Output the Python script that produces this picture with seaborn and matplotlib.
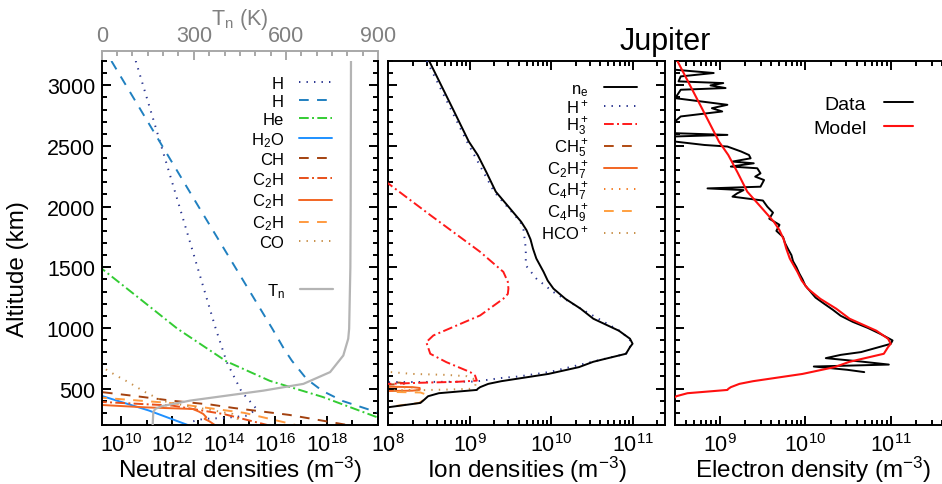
import matplotlib
matplotlib.use("Agg")
import matplotlib.pyplot as plt
import seaborn as sns
import pandas as pd
from matplotlib.ticker import (FixedLocator, FixedFormatter, NullFormatter,
                               MultipleLocator, LogLocator)

# ---------------- neutral atmosphere ----------------
alt_h = [3200, 2000, 1000, 720, 473, 332, 305, 275, 258, 250, 230]
n_h = [3.8e10, 1.9e12, 4.8e13, 1.3e14, 5.0e14, 1.9e15, 1.26e15, 7.1e14, 1.0e14, 1.6e13, 6.3e12]

alt_h2 = [3200, 2000, 1500, 993, 828, 729, 580, 481, 398, 307, 250]
n_h2 = [4.3e9, 1.05e13, 2.8e14, 7.8e15, 2.2e16, 4.5e16, 1.66e17, 6.9e17, 4.2e18, 8.7e19, 4.0e20]

alt_he = [1520, 1489, 1250, 993, 725, 564, 431, 266, 200]
n_he = [1.26e9, 1.8e9, 4.8e10, 1.6e12, 1.26e14, 6.2e15, 7.1e17, 8.7e19, 5.0e20]

alt_h2o = [450, 320, 200]
n_h2o = [1.26e9, 1.2e11, 4.0e12]

alt_ch4 = [470, 440, 400, 368, 340, 283, 200]
n_ch4 = [2.0e9, 3.2e10, 1.0e12, 3.2e13, 2.5e14, 3.6e16, 6.5e18]

alt_c2h2 = [400, 390, 360, 290, 200]
n_c2h2 = [1.2e9, 1.8e9, 1.0e12, 1.0e14, 5.0e15]

alt_c2h4 = [372, 365, 345, 332, 310, 291, 264, 250, 230, 200]
n_c2h4 = [1.2e9, 1.8e9, 1.0e11, 6.3e12, 1.1e13, 1.6e13, 2.1e13, 1.8e13, 2.8e13, 4.5e13]

alt_c2h6 = [430, 425, 380, 300, 200]
n_c2h6 = [1.2e9, 1.8e9, 1.0e12, 6.3e14, 6.3e16]

alt_co = [700, 663, 605, 555, 473, 398, 360, 320, 291, 250, 200]
n_co = [1.6e9, 2.4e9, 6.9e9, 1.9e10, 8.5e10, 4.3e11, 3.2e12, 4.0e13, 2.2e14, 3.5e14, 4.2e14]

alt_tn = [200, 305, 332, 355, 401, 483, 539, 636, 773, 911, 993, 1500, 2000, 3200]
tn = [166, 168, 174, 195, 288, 526, 657, 744, 787, 803, 806, 810, 811, 812]

neutral_labels = ["H", "H", "He", r"H$\mathregular{_2}$O", "CH",
                  r"C$\mathregular{_2}$H", r"C$\mathregular{_2}$H",
                  r"C$\mathregular{_2}$H", "CO"]

# ---------------- ionosphere ----------------
alt_ne = [3200, 2800, 2536, 2425, 2280, 2123, 2000, 1875, 1806, 1730, 1654, 1572,
          1462, 1390, 1324, 1240, 1159, 1076, 977, 911, 870, 842, 787, 745, 721,
          677, 621, 561, 539, 512, 498, 489, 462, 437, 410, 382, 346, 320]
n_ne = [3.2e8, 6.3e8, 9.8e8, 1.26e9, 1.62e9, 2.1e9, 3.0e9, 4.3e9, 5.0e9, 5.6e9,
        6.0e9, 6.6e9, 8.1e9, 9.1e9, 1.07e10, 1.5e10, 2.3e10, 3.3e10, 6.8e10,
        9.3e10, 1.0e11, 9.3e10, 8.3e10, 4.6e10, 3.3e10, 2.2e10, 9.3e9, 2.45e9,
        1.7e9, 1.35e9, 1.26e9, 1.23e9, 4.2e8, 3.1e8, 2.8e8, 2.5e8, 1.0e8, 6.3e7]

alt_hp = [3200, 2536, 2123, 1875, 1806, 1654, 1516, 1407, 1299, 1175, 977, 911,
          870, 787, 721, 638, 600, 588, 558, 555, 553, 548]
n_hp = [3.0e8, 9.3e8, 2.0e9, 4.2e9, 4.6e9, 4.9e9, 4.9e9, 6.6e9, 1.05e10, 2.1e10,
        6.9e10, 9.1e10, 9.8e10, 8.3e10, 3.2e10, 9.8e9, 4.0e9, 2.5e9, 1.17e9,
        3.2e8, 1.0e8, 1.0e7]

alt_h3p = [2200, 2192, 1930, 1627, 1462, 1380, 1324, 1280, 1241, 1103, 938, 883,
           787, 718, 636, 607, 566, 556, 548, 539, 530]
n_h3p = [8.9e7, 1.0e8, 3.3e8, 1.35e9, 2.6e9, 2.95e9, 3.0e9, 2.95e9, 2.6e9,
         1.35e9, 3.6e8, 2.95e8, 3.3e8, 5.2e8, 1.02e9, 1.17e9, 1.23e9, 7.1e8,
         2.5e8, 1.0e8, 3.2e7]

alt_ch5p = [565, 553, 549, 543, 537, 533, 520]
n_ch5p = [1e7, 1e8, 1.4e8, 1.6e8, 1.4e8, 1e8, 1e7]

alt_c2h7p = [530, 516, 512, 505, 490, 483, 480, 470]
n_c2h7p = [1e7, 1e8, 2.0e8, 2.45e8, 2.45e8, 2.0e8, 1e8, 1e7]

alt_c4h7p = [528, 514, 508, 494, 484, 482, 472]
n_c4h7p = [1e7, 1e8, 2.0e8, 2.1e8, 1.6e8, 1e8, 1e7]

alt_c4h9p = [485, 473, 468, 456, 440, 425, 415, 382, 346]
n_c4h9p = [1e7, 1e8, 2.5e8, 2.8e8, 2.9e8, 2.9e8, 2.9e8, 2.4e8, 9.5e7]

alt_hcop = [680, 638, 621, 613, 602, 575, 550, 520, 498, 492, 487, 483, 475]
n_hcop = [2e7, 1e8, 2e8, 5.2e8, 9.3e8, 1.17e9, 1.2e9, 1.17e9, 1.0e9, 5.2e8,
          2.5e8, 1e8, 2e7]

ion_labels = [r"n$\mathregular{_e}$", r"H$\mathregular{^+}$",
              r"H$\mathregular{_3^+}$", r"CH$\mathregular{_5^+}$",
              r"C$\mathregular{_2}$H$\mathregular{_7^+}$",
              r"C$\mathregular{_4}$H$\mathregular{_7^+}$",
              r"C$\mathregular{_4}$H$\mathregular{_9^+}$",
              r"HCO$\mathregular{^+}$"]

# ---------------- measured electron density ----------------
alt_data = [3200, 3128, 3101, 3073, 3032, 3018, 2999, 2977, 2963, 2921, 2894,
            2839, 2811, 2784, 2743, 2702, 2605, 2591, 2578, 2536, 2508, 2495,
            2454, 2425, 2398, 2371, 2357, 2330, 2316, 2274, 2247, 2219, 2164,
            2150, 2136, 2109, 2082, 2050, 2000, 1950, 1900, 1850, 1800, 1750,
            1700, 1650, 1600, 1550, 1500, 1450, 1400, 1350, 1300, 1250, 1200,
            1150, 1100, 1050, 1000, 950, 897, 869, 801, 778, 751, 723, 698,
            682, 655, 636]
n_data = [3.0e8, 3.0e8, 8.5e8, 3.5e8, 3.3e8, 1.1e9, 7.8e8, 1.17e9, 3.5e8,
          3.2e8, 3.0e8, 1.23e9, 8.1e8, 1.07e9, 3.5e8, 3.0e8, 3.0e8, 1.23e9,
          3.0e8, 3.0e8, 6.6e8, 1.23e9, 1.78e9, 2.2e9, 2.3e9, 1.41e9, 2.5e9,
          1.35e9, 2.75e9, 3.0e9, 2.6e9, 3.3e9, 3.0e9, 7.2e8, 1.9e9, 1.6e9,
          1.41e9, 3.2e9, 3.6e9, 4.2e9, 3.8e9, 5.0e9, 4.6e9, 5.5e9, 5.8e9,
          6.3e9, 6.9e9, 7.2e9, 7.9e9, 8.5e9, 9.3e9, 1.0e10, 1.15e10, 1.32e10,
          1.66e10, 2.1e10, 2.6e10, 3.6e10, 5.4e10, 7.6e10, 1.05e11, 1.0e11,
          4.5e10, 2.6e10, 1.74e10, 4.5e10, 9.5e10, 1.26e10, 3.1e10, 4.9e10]

alt_ticks = [500, 1000, 1500, 2000, 2500, 3000]

# ---------------- style ----------------
sns.set_theme(style="ticks")
plt.rcParams.update({
    "font.family": ["Liberation Sans", "DejaVu Sans"],
    "mathtext.fontset": "custom",
    "mathtext.rm": "Liberation Sans",
    "mathtext.it": "Liberation Sans:italic",
    "mathtext.bf": "Liberation Sans:bold",
    "lines.scale_dashes": False,
    "axes.edgecolor": "black",
    "axes.linewidth": 1.4,
    "xtick.color": "black",
    "ytick.color": "black",
    "text.color": "black",
    "axes.labelcolor": "black",
})

DOT = (0, (1.0, 4.4))
DASH = (0, (7.0, 6.0))
DASHDOT = (0, (7.0, 2.4, 1.4, 2.4))
LW = 1.4
TICK_FS = 15.5
LABEL_FS = 17.5

W, H = 942, 485
fig = plt.figure(figsize=(W / 100, H / 100), dpi=100)
bot, hgt = 59 / H, 364 / H
ax1 = fig.add_axes([101.7 / W, bot, 276.3 / W, hgt])
ax2 = fig.add_axes([388 / W, bot, 277 / W, hgt])
ax3 = fig.add_axes([675 / W, bot, 275.5 / W, hgt])

for ax in (ax1, ax2, ax3):
    ax.set_xscale("log")
    ax.set_ylim(200, 3200)


def profile(ax, alt, dens, color, ls, label=None, z=2, lw=LW):
    df = pd.DataFrame({"n": dens, "alt": alt})
    sns.lineplot(data=df, x="n", y="alt", ax=ax, sort=False, estimator=None,
                 color=color, linestyle=ls, linewidth=lw, label=label,
                 legend=False, zorder=z)


# ---- left panel: neutrals ----
neutral_series = [
    (alt_h, n_h, "#2a3590", DOT),
    (alt_h2, n_h2, "#2080c0", DASH),
    (alt_he, n_he, "#33cc33", DASHDOT),
    (alt_h2o, n_h2o, "#1e90ff", "-"),
    (alt_ch4, n_ch4, "#a3410f", DASH),
    (alt_c2h2, n_c2h2, "#e8501a", DASHDOT),
    (alt_c2h4, n_c2h4, "#f26522", "-"),
    (alt_c2h6, n_c2h6, "#ff9a40", DASH),
    (alt_co, n_co, "#c8904a", DOT),
]
for (a, d, c, ls), lab in zip(neutral_series, neutral_labels):
    profile(ax1, a, d, c, ls, lab)

ax_t = ax1.twiny()
df_t = pd.DataFrame({"T": tn, "alt": alt_tn})
sns.lineplot(data=df_t, x="T", y="alt", ax=ax_t, sort=False, estimator=None,
             color="#b4b4b4", linewidth=1.6, label=r"T$\mathregular{_n}$",
             legend=False)
ax_t.set_xlim(0, 900)
ax1.set_ylim(200, 3200)

# ---- middle panel: ions ----
ion_series = [
    (alt_ne, n_ne, "black", "-", 4),
    (alt_hp, n_hp, "#2a3590", DOT, 3),
    (alt_h3p, n_h3p, "#ff1a1a", DASHDOT, 3),
    (alt_ch5p, n_ch5p, "#b04a12", DASH, 2),
    (alt_c2h7p, n_c2h7p, "#f26522", "-", 2),
    (alt_c4h7p, n_c4h7p, "#f47a20", DOT, 2),
    (alt_c4h9p, n_c4h9p, "#ffa040", DASH, 2),
    (alt_hcop, n_hcop, "#c8904a", DOT, 2),
]
for (a, d, c, ls, z), lab in zip(ion_series, ion_labels):
    profile(ax2, a, d, c, ls, lab, z=z)

# ---- right panel: measured vs modelled electron density ----
profile(ax3, alt_data, n_data, "black", "-", "Data", z=2)
profile(ax3, alt_ne, n_ne, "#ff1010", "-", "Model", z=3, lw=1.5)

# ---------------- axes formatting ----------------
ax1.set_xlim(1.8e9, 1e20)
ax2.set_xlim(1e8, 2.5e11)
ax3.set_xlim(3e8, 5e11)


def decade_labels(exps):
    return [r"$\mathregular{10^{%d}}$" % e for e in exps]


ax1.xaxis.set_major_locator(FixedLocator([1e10, 1e12, 1e14, 1e16, 1e18, 1e20]))
ax1.xaxis.set_major_formatter(FixedFormatter(decade_labels([10, 12, 14, 16, 18]) + [""]))
ax1.xaxis.set_minor_locator(FixedLocator([1e9, 1e11, 1e13, 1e15, 1e17, 1e19]))
ax1.xaxis.set_minor_formatter(NullFormatter())

ax2.xaxis.set_major_locator(FixedLocator([1e8, 1e9, 1e10, 1e11]))
ax2.xaxis.set_major_formatter(FixedFormatter(decade_labels([8, 9, 10, 11])))
ax2.xaxis.set_minor_locator(LogLocator(base=10, subs=range(2, 10), numticks=20))
ax2.xaxis.set_minor_formatter(NullFormatter())

ax3.xaxis.set_major_locator(FixedLocator([1e9, 1e10, 1e11]))
ax3.xaxis.set_major_formatter(FixedFormatter(decade_labels([9, 10, 11])))
ax3.xaxis.set_minor_locator(LogLocator(base=10, subs=range(2, 10), numticks=20))
ax3.xaxis.set_minor_formatter(NullFormatter())

for ax in (ax1, ax2, ax3):
    ax.yaxis.set_major_locator(FixedLocator(alt_ticks))
    ax.yaxis.set_minor_locator(MultipleLocator(100))
    ax.tick_params(which="both", direction="in", width=1.4,
                   top=True, bottom=True, left=True, right=True,
                   labelsize=TICK_FS, labelleft=False)
    ax.tick_params(which="major", length=6.5)
    ax.tick_params(which="minor", length=3.5)
    ax.tick_params(axis="x", which="both", pad=5.8)
    ax.set_xlabel("")
    ax.set_ylabel("")

ax1.tick_params(axis="y", labelleft=True, pad=4.8)
ax1.tick_params(axis="x", top=False, which="both")
ax1.spines["top"].set_visible(False)
ax1.set_ylabel("Altitude (km)", fontsize=LABEL_FS)
ax1.yaxis.set_label_coords(-0.262, 0.43)

ax1.set_xlabel(r"Neutral densities (m$\mathregular{^{-3}}$)", fontsize=LABEL_FS, labelpad=-1.5)
ax2.set_xlabel(r"Ion densities (m$\mathregular{^{-3}}$)", fontsize=LABEL_FS, labelpad=-1.5)
ax3.set_xlabel(r"Electron density (m$\mathregular{^{-3}}$)", fontsize=LABEL_FS, labelpad=-1.5)

# temperature axis on top of the neutral panel
grey_line, grey_text = "#a8a8a8", "#808080"
ax_t.xaxis.set_major_locator(FixedLocator([0, 300, 600, 900]))
ax_t.xaxis.set_minor_locator(MultipleLocator(50))
ax_t.spines["top"].set_position(("outward", 7.2))
ax_t.spines["top"].set_color(grey_line)
ax_t.spines["top"].set_linewidth(1.4)
for s in ("bottom", "left", "right"):
    ax_t.spines[s].set_visible(False)
ax_t.tick_params(axis="x", which="both", direction="in", color=grey_line,
                 labelcolor=grey_text, top=True, bottom=False, labeltop=True,
                 labelbottom=False, width=1.4, labelsize=TICK_FS, pad=3.5)
ax_t.tick_params(axis="x", which="major", length=6.5)
ax_t.tick_params(axis="x", which="minor", length=3.5)
ax_t.set_xlabel(r"T$\mathregular{_n}$ (K)", color=grey_text, fontsize=TICK_FS, labelpad=1)
ax_t.set_ylabel("")

# ---------------- legends ----------------
common = dict(loc="upper right", markerfirst=False, frameon=False,
              borderpad=0, borderaxespad=0, handletextpad=0.9)
h1, l1 = ax1.get_legend_handles_labels()
ax1.legend(h1, l1, bbox_to_anchor=(0.834, 0.958), fontsize=12,
           handlelength=2.0, labelspacing=0.18, **common)
ht, lt = ax_t.get_legend_handles_labels()
ax_t.legend(ht, lt, bbox_to_anchor=(0.837, 0.395), fontsize=12,
            handlelength=2.0, **common)
h2, l2 = ax2.get_legend_handles_labels()
ax2.legend(h2, l2, bbox_to_anchor=(0.899, 0.945), fontsize=12,
           handlelength=2.0, labelspacing=-0.04, **common)
h3, l3 = ax3.get_legend_handles_labels()
ax3.legend(h3, l3, bbox_to_anchor=(0.864, 0.905), fontsize=14,
           handlelength=1.5, labelspacing=0.3, **common)

fig.text(665 / W, 1 - 42 / H, "Jupiter", ha="center", va="center", fontsize=22)

fig.savefig("out.png", dpi=100)
